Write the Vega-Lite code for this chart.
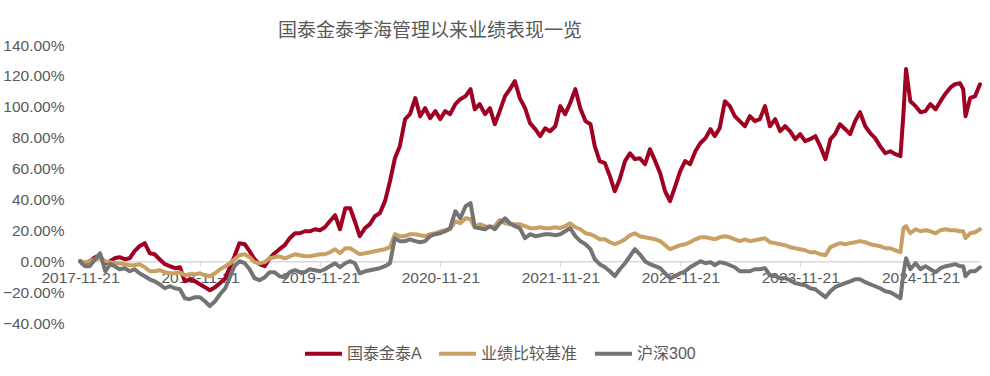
{
"$schema": "https://vega.github.io/schema/vega-lite/v6.json",
"width": 900, "height": 278,
"autosize": {"type": "none"},
"padding": {"left": 80, "top": 45, "right": 10, "bottom": 53},
"background": "white",
"title": {"text": "国泰金泰李海管理以来业绩表现一览", "anchor": "start", "frame": "group", "dx": 198, "dy": 27, "offset": 5, "baseline": "bottom", "fontSize": 19, "fontWeight": "normal", "font": "Noto Sans CJK SC", "color": "#595959"},
"data": {"values": [
{"d":"2017-11-21","国泰金泰A":0,"业绩比较基准":0,"沪深300":0},
{"d":"2017-12-06","国泰金泰A":-1.3,"业绩比较基准":-0.6,"沪深300":-3.2},
{"d":"2017-12-21","国泰金泰A":0,"业绩比较基准":0,"沪深300":-3.2},
{"d":"2018-01-06","国泰金泰A":2.6,"业绩比较基准":1.3,"沪深300":1.3},
{"d":"2018-01-21","国泰金泰A":3.2,"业绩比较基准":1.9,"沪深300":5.2},
{"d":"2018-02-06","国泰金泰A":-1.3,"业绩比较基准":0,"沪深300":-6.5},
{"d":"2018-02-21","国泰金泰A":0,"业绩比较基准":-0.6,"沪深300":-1.9},
{"d":"2018-03-06","国泰金泰A":1.9,"业绩比较基准":-1.3,"沪深300":-3.2},
{"d":"2018-03-21","国泰金泰A":2.6,"业绩比较基准":-1.3,"沪深300":-5.2},
{"d":"2018-04-06","国泰金泰A":1.3,"业绩比较基准":-1.9,"沪深300":-4.5},
{"d":"2018-04-21","国泰金泰A":1.9,"业绩比较基准":-2.6,"沪深300":-6.5},
{"d":"2018-05-06","国泰金泰A":6.5,"业绩比较基准":-2.6,"沪深300":-5.2},
{"d":"2018-05-21","国泰金泰A":9.7,"业绩比较基准":-1.9,"沪深300":-7.8},
{"d":"2018-06-06","国泰金泰A":11.7,"业绩比较基准":-3.9,"沪深300":-9.7},
{"d":"2018-06-21","国泰金泰A":5.2,"业绩比较基准":-6.5,"沪深300":-11.7},
{"d":"2018-07-06","国泰金泰A":4.5,"业绩比较基准":-6.5,"沪深300":-13.0},
{"d":"2018-07-21","国泰金泰A":1.3,"业绩比较基准":-5.8,"沪深300":-14.9},
{"d":"2018-08-06","国泰金泰A":-1.9,"业绩比较基准":-7.1,"沪深300":-17.5},
{"d":"2018-08-21","国泰金泰A":-3.2,"业绩比较基准":-7.8,"沪深300":-16.2},
{"d":"2018-09-06","国泰金泰A":-4.5,"业绩比较基准":-7.8,"沪深300":-17.5},
{"d":"2018-09-21","国泰金泰A":-3.9,"业绩比较基准":-7.1,"沪深300":-18.1},
{"d":"2018-10-06","国泰金泰A":-13.0,"业绩比较基准":-9.1,"沪深300":-24.0},
{"d":"2018-10-21","国泰金泰A":-11.7,"业绩比较基准":-8.4,"沪深300":-24.6},
{"d":"2018-11-06","国泰金泰A":-13.0,"业绩比较基准":-8.4,"沪深300":-23.3},
{"d":"2018-11-21","国泰金泰A":-14.9,"业绩比较基准":-7.8,"沪深300":-23.3},
{"d":"2018-12-06","国泰金泰A":-16.8,"业绩比较基准":-9.1,"沪深300":-25.9},
{"d":"2018-12-21","国泰金泰A":-18.8,"业绩比较基准":-9.7,"沪深300":-29.1},
{"d":"2019-01-06","国泰金泰A":-16.8,"业绩比较基准":-7.8,"沪深300":-25.9},
{"d":"2019-01-21","国泰金泰A":-14.2,"业绩比较基准":-5.2,"沪深300":-21.4},
{"d":"2019-02-06","国泰金泰A":-11.0,"业绩比较基准":-3.2,"沪深300":-17.5},
{"d":"2019-02-21","国泰金泰A":-3.2,"业绩比较基准":-1.3,"沪深300":-9.7},
{"d":"2019-03-06","国泰金泰A":3.2,"业绩比较基准":1.3,"沪深300":-3.2},
{"d":"2019-03-21","国泰金泰A":11.7,"业绩比较基准":3.9,"沪深300":0},
{"d":"2019-04-06","国泰金泰A":11.0,"业绩比较基准":4.5,"沪深300":-1.3},
{"d":"2019-04-21","国泰金泰A":6.5,"业绩比较基准":2.6,"沪深300":-5.2},
{"d":"2019-05-06","国泰金泰A":1.3,"业绩比较基准":-0.6,"沪深300":-11.0},
{"d":"2019-05-21","国泰金泰A":-1.9,"业绩比较基准":-1.3,"沪深300":-12.3},
{"d":"2019-06-06","国泰金泰A":-3.2,"业绩比较基准":-0.6,"沪深300":-10.4},
{"d":"2019-06-21","国泰金泰A":1.9,"业绩比较基准":1.9,"沪深300":-7.1},
{"d":"2019-07-06","国泰金泰A":5.2,"业绩比较基准":2.6,"沪深300":-7.1},
{"d":"2019-07-21","国泰金泰A":7.8,"业绩比较基准":3.2,"沪深300":-9.7},
{"d":"2019-08-06","国泰金泰A":10.4,"业绩比较基准":1.9,"沪深300":-10.4},
{"d":"2019-08-21","国泰金泰A":14.9,"业绩比较基准":3.2,"沪深300":-7.1},
{"d":"2019-09-06","国泰金泰A":18.1,"业绩比较基准":4.5,"沪深300":-5.8},
{"d":"2019-09-21","国泰金泰A":18.1,"业绩比较基准":3.9,"沪深300":-7.1},
{"d":"2019-10-06","国泰金泰A":19.4,"业绩比较基准":3.2,"沪深300":-7.1},
{"d":"2019-10-21","国泰金泰A":19.4,"业绩比较基准":3.2,"沪深300":-5.2},
{"d":"2019-11-06","国泰金泰A":20.7,"业绩比较基准":3.9,"沪深300":-5.8},
{"d":"2019-11-21","国泰金泰A":20.1,"业绩比较基准":4.5,"沪深300":-6.5},
{"d":"2019-12-06","国泰金泰A":22.0,"业绩比较基准":4.5,"沪深300":-5.2},
{"d":"2019-12-21","国泰金泰A":25.9,"业绩比较基准":5.8,"沪深300":-3.2},
{"d":"2020-01-06","国泰金泰A":29.8,"业绩比较基准":7.8,"沪深300":-1.3},
{"d":"2020-01-21","国泰金泰A":20.7,"业绩比较基准":5.2,"沪深300":-3.9},
{"d":"2020-02-06","国泰金泰A":34.3,"业绩比较基准":8.4,"沪深300":-1.3},
{"d":"2020-02-21","国泰金泰A":34.3,"业绩比较基准":8.4,"沪深300":0},
{"d":"2020-03-06","国泰金泰A":25.9,"业绩比较基准":6.5,"沪深300":-1.3},
{"d":"2020-03-21","国泰金泰A":16.2,"业绩比较基准":4.5,"沪深300":-7.8},
{"d":"2020-04-06","国泰金泰A":21.4,"业绩比较基准":5.2,"沪深300":-6.5},
{"d":"2020-04-21","国泰金泰A":24.0,"业绩比较基准":5.8,"沪深300":-5.8},
{"d":"2020-05-06","国泰金泰A":29.1,"业绩比较基准":6.5,"沪深300":-5.2},
{"d":"2020-05-21","国泰金泰A":31.1,"业绩比较基准":7.1,"沪深300":-4.5},
{"d":"2020-06-06","国泰金泰A":38.9,"业绩比较基准":7.8,"沪深300":-3.2},
{"d":"2020-06-21","国泰金泰A":51.8,"业绩比较基准":9.1,"沪深300":-1.3},
{"d":"2020-07-06","国泰金泰A":66.7,"业绩比较基准":17.5,"沪深300":14.9},
{"d":"2020-07-21","国泰金泰A":74.5,"业绩比较基准":16.2,"沪深300":13.0},
{"d":"2020-08-06","国泰金泰A":92.0,"业绩比较基准":16.2,"沪深300":13.0},
{"d":"2020-08-21","国泰金泰A":95.2,"业绩比较基准":17.5,"沪深300":14.2},
{"d":"2020-09-06","国泰金泰A":105.6,"业绩比较基准":17.5,"沪深300":13.0},
{"d":"2020-09-21","国泰金泰A":93.9,"业绩比较基准":16.8,"沪深300":12.3},
{"d":"2020-10-06","国泰金泰A":99.1,"业绩比较基准":16.2,"沪深300":13.0},
{"d":"2020-10-21","国泰金泰A":92.6,"业绩比较基准":17.5,"沪深300":16.2},
{"d":"2020-11-06","国泰金泰A":97.2,"业绩比较基准":18.1,"沪深300":17.5},
{"d":"2020-11-21","国泰金泰A":92.0,"业绩比较基准":19.4,"沪深300":18.1},
{"d":"2020-12-06","国泰金泰A":97.2,"业绩比较基准":20.1,"沪深300":19.4},
{"d":"2020-12-21","国泰金泰A":95.2,"业绩比较基准":20.7,"沪深300":21.4},
{"d":"2021-01-06","国泰金泰A":101.7,"业绩比较基准":25.9,"沪深300":32.4},
{"d":"2021-01-21","国泰金泰A":104.9,"业绩比较基准":24.6,"沪深300":27.8},
{"d":"2021-02-06","国泰金泰A":106.9,"业绩比较基准":27.8,"沪深300":35.6},
{"d":"2021-02-21","国泰金泰A":111.4,"业绩比较基准":27.2,"沪深300":37.6},
{"d":"2021-03-06","国泰金泰A":98.4,"业绩比较基准":22.0,"沪深300":22.0},
{"d":"2021-03-21","国泰金泰A":101.7,"业绩比较基准":24.0,"沪深300":21.4},
{"d":"2021-04-06","国泰金泰A":95.2,"业绩比较基准":22.7,"沪深300":20.7},
{"d":"2021-04-21","国泰金泰A":99.1,"业绩比较基准":22.0,"沪深300":22.7},
{"d":"2021-05-06","国泰金泰A":88.7,"业绩比较基准":22.7,"沪深300":20.7},
{"d":"2021-05-21","国泰金泰A":97.2,"业绩比较基准":26.6,"沪深300":24.6},
{"d":"2021-06-06","国泰金泰A":106.9,"业绩比较基准":24.6,"沪深300":27.8},
{"d":"2021-06-21","国泰金泰A":111.4,"业绩比较基准":24.0,"沪深300":24.6},
{"d":"2021-07-06","国泰金泰A":116.6,"业绩比较基准":24.0,"沪深300":22.7},
{"d":"2021-07-21","国泰金泰A":105.6,"业绩比较基准":24.0,"沪深300":21.4},
{"d":"2021-08-06","国泰金泰A":99.1,"业绩比较基准":22.7,"沪深300":14.9},
{"d":"2021-08-21","国泰金泰A":89.4,"业绩比较基准":21.4,"沪深300":17.5},
{"d":"2021-09-06","国泰金泰A":85.5,"业绩比较基准":21.4,"沪深300":16.2},
{"d":"2021-09-21","国泰金泰A":81.0,"业绩比较基准":22.0,"沪深300":16.8},
{"d":"2021-10-06","国泰金泰A":86.1,"业绩比较基准":21.4,"沪深300":17.5},
{"d":"2021-10-21","国泰金泰A":84.2,"业绩比较基准":21.4,"沪深300":17.5},
{"d":"2021-11-06","国泰金泰A":87.4,"业绩比较基准":22.0,"沪深300":16.8},
{"d":"2021-11-21","国泰金泰A":100.4,"业绩比较基准":21.4,"沪深300":17.5},
{"d":"2021-12-06","国泰金泰A":95.2,"业绩比较基准":22.7,"沪深300":19.4},
{"d":"2021-12-21","国泰金泰A":102.3,"业绩比较基准":24.6,"沪深300":21.4},
{"d":"2022-01-06","国泰金泰A":111.4,"业绩比较基准":22.0,"沪深300":16.2},
{"d":"2022-01-21","国泰金泰A":99.1,"业绩比较基准":20.7,"沪深300":13.0},
{"d":"2022-02-06","国泰金泰A":90.7,"业绩比较基准":18.1,"沪深300":11.0},
{"d":"2022-02-21","国泰金泰A":88.7,"业绩比较基准":17.5,"沪深300":7.8},
{"d":"2022-03-06","国泰金泰A":74.5,"业绩比较基准":16.2,"沪深300":1.3},
{"d":"2022-03-21","国泰金泰A":64.8,"业绩比较基准":14.2,"沪深300":-1.9},
{"d":"2022-04-06","国泰金泰A":63.5,"业绩比较基准":14.2,"沪深300":-3.9},
{"d":"2022-04-21","国泰金泰A":55.1,"业绩比较基准":12.3,"沪深300":-6.5},
{"d":"2022-05-06","国泰金泰A":45.3,"业绩比较基准":11.0,"沪深300":-9.7},
{"d":"2022-05-21","国泰金泰A":53.1,"业绩比较基准":12.3,"沪深300":-5.2},
{"d":"2022-06-06","国泰金泰A":64.8,"业绩比较基准":14.2,"沪深300":-1.3},
{"d":"2022-06-21","国泰金泰A":69.9,"业绩比较基准":16.8,"沪深300":3.2},
{"d":"2022-07-06","国泰金泰A":66.1,"业绩比较基准":18.1,"沪深300":7.8},
{"d":"2022-07-21","国泰金泰A":66.7,"业绩比较基准":16.2,"沪深300":4.5},
{"d":"2022-08-06","国泰金泰A":62.8,"业绩比较基准":15.5,"沪深300":0},
{"d":"2022-08-21","国泰金泰A":72.5,"业绩比较基准":14.9,"沪深300":-1.9},
{"d":"2022-09-06","国泰金泰A":64.8,"业绩比较基准":14.2,"沪深300":-3.2},
{"d":"2022-09-21","国泰金泰A":57.0,"业绩比较基准":13.0,"沪深300":-4.5},
{"d":"2022-10-06","国泰金泰A":45.3,"业绩比较基准":10.4,"沪深300":-7.8},
{"d":"2022-10-21","国泰金泰A":38.9,"业绩比较基准":7.8,"沪深300":-11.0},
{"d":"2022-11-06","国泰金泰A":48.6,"业绩比较基准":9.1,"沪深300":-9.7},
{"d":"2022-11-21","国泰金泰A":58.3,"业绩比较基准":10.4,"沪深300":-7.8},
{"d":"2022-12-06","国泰金泰A":64.8,"业绩比较基准":11.0,"沪深300":-6.5},
{"d":"2022-12-21","国泰金泰A":62.8,"业绩比较基准":12.3,"沪深300":-3.9},
{"d":"2023-01-06","国泰金泰A":71.2,"业绩比较基准":14.2,"沪深300":-1.9},
{"d":"2023-01-21","国泰金泰A":76.4,"业绩比较基准":15.5,"沪深300":0},
{"d":"2023-02-06","国泰金泰A":79.7,"业绩比较基准":15.5,"沪深300":-1.3},
{"d":"2023-02-21","国泰金泰A":85.5,"业绩比较基准":14.9,"沪深300":-0.6},
{"d":"2023-03-06","国泰金泰A":81.0,"业绩比较基准":14.2,"沪深300":-2.6},
{"d":"2023-03-21","国泰金泰A":86.1,"业绩比较基准":15.5,"沪深300":-0.6},
{"d":"2023-04-06","国泰金泰A":103.6,"业绩比较基准":16.2,"沪深300":-1.3},
{"d":"2023-04-21","国泰金泰A":100.4,"业绩比较基准":15.5,"沪深300":-2.6},
{"d":"2023-05-06","国泰金泰A":93.9,"业绩比较基准":14.2,"沪深300":-3.9},
{"d":"2023-05-21","国泰金泰A":90.7,"业绩比较基准":13.0,"沪深300":-6.5},
{"d":"2023-06-06","国泰金泰A":87.4,"业绩比较基准":14.2,"沪深300":-6.5},
{"d":"2023-06-21","国泰金泰A":93.9,"业绩比较基准":13.0,"沪深300":-6.5},
{"d":"2023-07-06","国泰金泰A":90.7,"业绩比较基准":13.6,"沪深300":-5.2},
{"d":"2023-07-21","国泰金泰A":92.0,"业绩比较基准":14.2,"沪深300":-5.2},
{"d":"2023-08-06","国泰金泰A":100.4,"业绩比较基准":14.9,"沪深300":-4.5},
{"d":"2023-08-21","国泰金泰A":87.4,"业绩比较基准":12.3,"沪深300":-9.1},
{"d":"2023-09-06","国泰金泰A":92.0,"业绩比较基准":11.7,"沪深300":-9.7},
{"d":"2023-09-21","国泰金泰A":84.2,"业绩比较基准":11.0,"沪深300":-11.0},
{"d":"2023-10-06","国泰金泰A":87.4,"业绩比较基准":10.4,"沪深300":-11.0},
{"d":"2023-10-21","国泰金泰A":84.2,"业绩比较基准":9.1,"沪深300":-12.3},
{"d":"2023-11-06","国泰金泰A":79.0,"业绩比较基准":8.4,"沪深300":-14.2},
{"d":"2023-11-21","国泰金泰A":82.3,"业绩比较基准":7.8,"沪深300":-14.9},
{"d":"2023-12-06","国泰金泰A":77.7,"业绩比较基准":7.1,"沪深300":-15.5},
{"d":"2023-12-21","国泰金泰A":79.0,"业绩比较基准":5.8,"沪深300":-17.5},
{"d":"2024-01-06","国泰金泰A":81.0,"业绩比较基准":5.8,"沪深300":-18.1},
{"d":"2024-01-21","国泰金泰A":74.5,"业绩比较基准":4.5,"沪深300":-20.7},
{"d":"2024-02-06","国泰金泰A":66.1,"业绩比较基准":3.9,"沪深300":-23.3},
{"d":"2024-02-21","国泰金泰A":79.0,"业绩比较基准":9.1,"沪深300":-19.4},
{"d":"2024-03-06","国泰金泰A":82.3,"业绩比较基准":10.4,"沪深300":-16.8},
{"d":"2024-03-21","国泰金泰A":88.7,"业绩比较基准":11.7,"沪深300":-15.5},
{"d":"2024-04-06","国泰金泰A":85.5,"业绩比较基准":11.0,"沪深300":-14.2},
{"d":"2024-04-21","国泰金泰A":82.3,"业绩比较基准":11.7,"沪深300":-13.0},
{"d":"2024-05-06","国泰金泰A":90.7,"业绩比较基准":12.3,"沪深300":-11.7},
{"d":"2024-05-21","国泰金泰A":96.5,"业绩比较基准":13.0,"沪深300":-11.7},
{"d":"2024-06-06","国泰金泰A":87.4,"业绩比较基准":12.3,"沪深300":-13.6},
{"d":"2024-06-21","国泰金泰A":82.9,"业绩比较基准":11.0,"沪深300":-14.9},
{"d":"2024-07-06","国泰金泰A":79.7,"业绩比较基准":10.4,"沪深300":-16.2},
{"d":"2024-07-21","国泰金泰A":74.5,"业绩比较基准":9.7,"沪深300":-17.5},
{"d":"2024-08-06","国泰金泰A":69.9,"业绩比较基准":8.4,"沪深300":-19.4},
{"d":"2024-08-21","国泰金泰A":71.2,"业绩比较基准":8.4,"沪深300":-20.1},
{"d":"2024-09-06","国泰金泰A":69.3,"业绩比较基准":7.1,"沪深300":-22.0},
{"d":"2024-09-21","国泰金泰A":68.0,"业绩比较基准":5.8,"沪深300":-24.0},
{"d":"2024-09-30","国泰金泰A":95.2,"业绩比较基准":21.4,"沪深300":-7.8},
{"d":"2024-10-08","国泰金泰A":124.4,"业绩比较基准":22.7,"沪深300":1.9},
{"d":"2024-10-21","国泰金泰A":103.6,"业绩比较基准":18.1,"沪深300":-5.2},
{"d":"2024-11-06","国泰金泰A":100.4,"业绩比较基准":20.7,"沪深300":-1.3},
{"d":"2024-11-21","国泰金泰A":96.5,"业绩比较基准":19.4,"沪深300":-5.2},
{"d":"2024-12-06","国泰金泰A":97.2,"业绩比较基准":20.1,"沪深300":-3.2},
{"d":"2024-12-21","国泰金泰A":101.7,"业绩比较基准":19.4,"沪深300":-5.2},
{"d":"2025-01-06","国泰金泰A":98.4,"业绩比较基准":18.1,"沪深300":-7.1},
{"d":"2025-01-21","国泰金泰A":103.6,"业绩比较基准":20.1,"沪深300":-4.5},
{"d":"2025-02-06","国泰金泰A":108.8,"业绩比较基准":20.7,"沪深300":-3.2},
{"d":"2025-02-21","国泰金泰A":112.7,"业绩比较基准":20.1,"沪深300":-2.6},
{"d":"2025-03-06","国泰金泰A":114.6,"业绩比较基准":20.1,"沪深300":-1.9},
{"d":"2025-03-21","国泰金泰A":115.3,"业绩比较基准":19.4,"沪深300":-3.2},
{"d":"2025-03-31","国泰金泰A":111.4,"业绩比较基准":19.4,"沪深300":-3.2},
{"d":"2025-04-07","国泰金泰A":93.9,"业绩比较基准":14.9,"沪深300":-9.7},
{"d":"2025-04-21","国泰金泰A":105.6,"业绩比较基准":18.1,"沪深300":-6.5},
{"d":"2025-05-06","国泰金泰A":106.9,"业绩比较基准":18.8,"沪深300":-6.5},
{"d":"2025-05-21","国泰金泰A":114.6,"业绩比较基准":20.7,"沪深300":-3.9}
]},
"transform": [{"fold": ["国泰金泰A", "业绩比较基准", "沪深300"], "as": ["series", "value"]}],
"mark": {"type": "line", "strokeWidth": 4, "strokeJoin": "round", "strokeCap": "round"},
"encoding": {
  "x": {"field": "d", "type": "temporal",
    "scale": {"type": "utc", "domain": [{"year": 2017, "month": 11, "date": 21, "utc": true}, {"year": 2025, "month": 5, "date": 21, "utc": true}]},
    "axis": {"values": [
      {"year": 2017, "month": 11, "date": 21, "utc": true},
      {"year": 2018, "month": 11, "date": 21, "utc": true},
      {"year": 2019, "month": 11, "date": 21, "utc": true},
      {"year": 2020, "month": 11, "date": 21, "utc": true},
      {"year": 2021, "month": 11, "date": 21, "utc": true},
      {"year": 2022, "month": 11, "date": 21, "utc": true},
      {"year": 2023, "month": 11, "date": 21, "utc": true},
      {"year": 2024, "month": 11, "date": 21, "utc": true}],
      "labelExpr": "utcFormat(datum.value, '%Y-%m-%d')", "offset": -61.8, "title": null, "grid": false,
      "domainColor": "#d9d9d9", "domainWidth": 1.5, "tickColor": "#d9d9d9", "tickSize": 5, "tickWidth": 1,
      "labelFontSize": 15.5, "labelColor": "#595959", "labelFont": "Liberation Sans", "labelPadding": 4,
      "labelOverlap": false, "labelFlush": false}},
  "y": {"field": "value", "type": "quantitative",
    "scale": {"domain": [-40, 140], "nice": false, "zero": false},
    "axis": {"values": [-40, -20, 0, 20, 40, 60, 80, 100, 120, 140], "labelExpr": "format(datum.value, '.2f') + '%'",
      "domain": false, "ticks": false, "tickSize": 0, "grid": false, "labelPadding": 16, "title": null,
      "labelFontSize": 15.5, "labelColor": "#595959", "labelFont": "Liberation Sans"}},
  "color": {"field": "series", "type": "nominal",
    "scale": {"domain": ["国泰金泰A", "业绩比较基准", "沪深300"], "range": ["#A00021", "#C9A063", "#747474"]},
    "legend": {"orient": "none", "legendX": 223, "legendY": 288, "direction": "horizontal", "title": null,
      "symbolType": "stroke", "symbolSize": 1369, "symbolStrokeWidth": 4, "labelFontSize": 16, "labelColor": "#595959",
      "labelFont": "Liberation Sans, Noto Sans CJK SC", "columnPadding": 9, "labelOffset": 3, "padding": 0}}
},
"config": {"view": {"stroke": null}}
}
